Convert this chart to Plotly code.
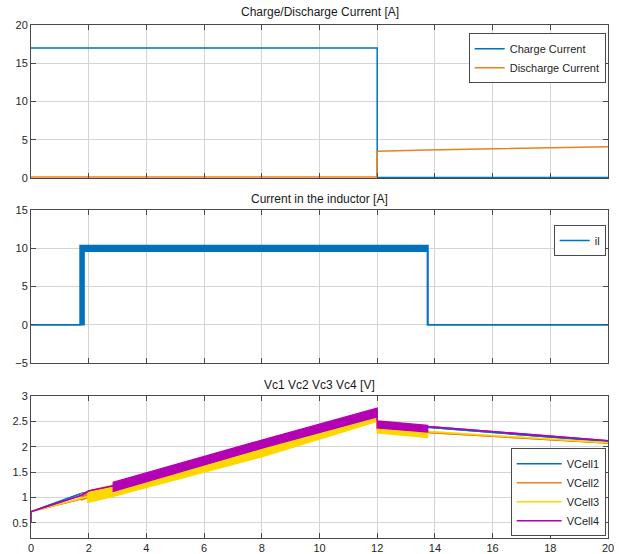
import plotly.graph_objects as go

# ---------------- data ----------------
# Plot 1: charge / discharge current [A]
cur_t = [0, 12, 12, 13.75, 20]
charge_current = [17, 17, 0.05, 0.05, 0.05]
discharge_current = [0.12, 0.12, 3.5, 3.65, 4.08]

# Plot 2: inductor current envelope [A] (switching ripple band)
il_t_hi = [0, 1.70, 1.70, 13.76, 13.76, 20]
il_hi = [0, 0, 10.35, 10.35, 0, 0]
il_t_lo = [0, 1.84, 1.84, 13.74, 13.74, 20]
il_lo = [0, 0, 9.6, 9.6, 0, 0]

# Plot 3: cell voltages [V] (lower / upper envelopes)
vc1_t = [0, 1.75, 2.85, 12, 12, 13.75, 20]
vc1_lo = [0.72, 1.08, 1.22, 2.68, 2.45, 2.38, 2.10]
vc1_hi = [0.72, 1.08, 1.22, 2.68, 2.45, 2.38, 2.10]

vc2_t = [0, 1.75, 1.75, 2.0, 2.0, 2.85, 12, 12, 13.75, 20]
vc2_lo = [0.72, 0.97, 0.95, 0.99, 1.00, 1.10, 2.55, 2.33, 2.28, 2.07]
vc2_hi = [0.72, 0.97, 1.07, 1.10, 1.08, 1.18, 2.60, 2.36, 2.28, 2.07]

vc3_t = [0, 1.75, 1.97, 1.97, 2.85, 2.85, 8, 12, 12, 13.75, 13.75, 20]
vc3_lo = [0.72, 1.00, 1.02, 0.90, 1.02, 1.02, 1.80, 2.50, 2.27, 2.18, 2.30, 2.08]
vc3_hi = [0.72, 1.00, 1.02, 1.13, 1.25, 1.20, 1.95, 2.62, 2.40, 2.32, 2.30, 2.08]

vc4_t = [0, 0, 1.75, 2.0, 2.85, 2.85, 8, 12, 12, 13.75, 13.75, 20]
vc4_lo = [0.5, 0.72, 1.04, 1.13, 1.23, 1.12, 1.97, 2.59, 2.37, 2.29, 2.40, 2.12]
vc4_hi = [0.5, 0.72, 1.04, 1.13, 1.23, 1.30, 2.13, 2.76, 2.51, 2.42, 2.40, 2.12]

x_ticks = [0, 2, 4, 6, 8, 10, 12, 14, 16, 18, 20]
x_labels = ["0", "2", "4", "6", "8", "10", "12", "14", "16", "18", "20"]
y1_ticks = [0, 5, 10, 15, 20]
y2_ticks = [-5, 0, 5, 10, 15]
y3_ticks = [0.5, 1, 1.5, 2, 2.5, 3]
y3_labels = ["0.5", "1", "1.5", "2", "2.5", "3"]

titles = ["Charge/Discharge Current [A]", "Current in the inductor [A]", "Vc1 Vc2 Vc3 Vc4 [V]"]

# ---------------- style ----------------
BLUE = "#0072BD"
ORANGE = "#E8821E"
YELLOW = "#FFD700"
MAGENTA = "#B400B4"
FONT = "Liberation Sans, Arial, sans-serif"

fig = go.Figure()

# plot 1
fig.add_trace(go.Scatter(x=cur_t, y=charge_current, mode="lines", name="Charge Current",
                         line=dict(color=BLUE, width=1.5), xaxis="x", yaxis="y", legend="legend"))
fig.add_trace(go.Scatter(x=cur_t, y=discharge_current, mode="lines", name="Discharge Current",
                         line=dict(color=ORANGE, width=1.5), xaxis="x", yaxis="y", legend="legend"))

# plot 2
fig.add_trace(go.Scatter(x=il_t_hi, y=il_hi, mode="lines", name="il", showlegend=True,
                         line=dict(color=BLUE, width=1.5), xaxis="x2", yaxis="y2", legend="legend2"))
fig.add_trace(go.Scatter(x=il_t_lo, y=il_lo, mode="lines", name="il", fill="tonexty", showlegend=False,
                         fillcolor=BLUE, line=dict(color=BLUE, width=1.5),
                         xaxis="x2", yaxis="y2", legend="legend2"))

# plot 3
for name, t, lo, hi, col in [("VCell1", vc1_t, vc1_lo, vc1_hi, BLUE),
                             ("VCell2", vc2_t, vc2_lo, vc2_hi, ORANGE),
                             ("VCell3", vc3_t, vc3_lo, vc3_hi, YELLOW),
                             ("VCell4", vc4_t, vc4_lo, vc4_hi, MAGENTA)]:
    fig.add_trace(go.Scatter(x=t, y=hi, mode="lines", name=name, showlegend=True,
                             line=dict(color=col, width=1.3), xaxis="x3", yaxis="y3", legend="legend3"))
    fig.add_trace(go.Scatter(x=t, y=lo, mode="lines", name=name, fill="tonexty", fillcolor=col,
                             showlegend=False,
                             line=dict(color=col, width=1.3), xaxis="x3", yaxis="y3", legend="legend3"))

# ---------------- layout ----------------
axis_common = dict(showline=True, linecolor="#4a4a4a", linewidth=1, mirror="ticks",
                   ticks="inside", ticklen=5, tickcolor="#4a4a4a", tickwidth=1,
                   showgrid=True, gridcolor="#d4d4d4", gridwidth=1, zeroline=False,
                   automargin=False,
                   tickfont=dict(family=FONT, size=11, color="#262626"))

doms = [(0.7018, 1.0), (0.3411, 0.6394), (0.0, 0.2768)]
legend_style = dict(bgcolor="white", bordercolor="#4a4a4a", borderwidth=1,
                    font=dict(family=FONT, size=11, color="#262626"), traceorder="normal")

layout = dict(
    width=622, height=554,
    margin=dict(l=31, r=14, t=25, b=16, autoexpand=False),
    paper_bgcolor="white", plot_bgcolor="white",
    font=dict(family=FONT, size=11, color="#262626"),
    xaxis=dict(axis_common, domain=[0, 1], anchor="y", range=[0, 20], tickvals=x_ticks, showticklabels=False),
    yaxis=dict(axis_common, domain=list(doms[0]), anchor="x", range=[0, 20], tickvals=y1_ticks),
    xaxis2=dict(axis_common, domain=[0, 1], anchor="y2", range=[0, 20], tickvals=x_ticks, showticklabels=False),
    yaxis2=dict(axis_common, domain=list(doms[1]), anchor="x2", range=[-5, 15], tickvals=y2_ticks),
    xaxis3=dict(axis_common, domain=[0, 1], anchor="y3", range=[0, 20], tickvals=x_ticks, ticktext=x_labels),
    yaxis3=dict(axis_common, domain=list(doms[2]), anchor="x3", range=[0.2, 3], tickvals=y3_ticks, ticktext=y3_labels),
    legend=dict(legend_style, x=0.996, xanchor="right", y=0.984, yanchor="top", itemwidth=30),
    legend2=dict(legend_style, x=0.996, xanchor="right", y=0.61, yanchor="top", itemwidth=30),
    legend3=dict(legend_style, x=0.996, xanchor="right", y=0.175, yanchor="top", itemwidth=45, tracegroupgap=0),
    showlegend=True,
)
fig.update_layout(**layout)

title_pix = [12, 199, 385]
for txt, yp in zip(titles, title_pix):
    fig.add_annotation(text=txt, xref="paper", yref="paper", x=0.5, y=(538 - yp) / 513,
                       xanchor="center", yanchor="middle", showarrow=False,
                       font=dict(family=FONT, size=12, color="#1a1a1a"))

fig.write_html("out.html", config={"displayModeBar": False},
               post_script="document.body.style.margin='0';document.body.style.overflow='hidden';")
